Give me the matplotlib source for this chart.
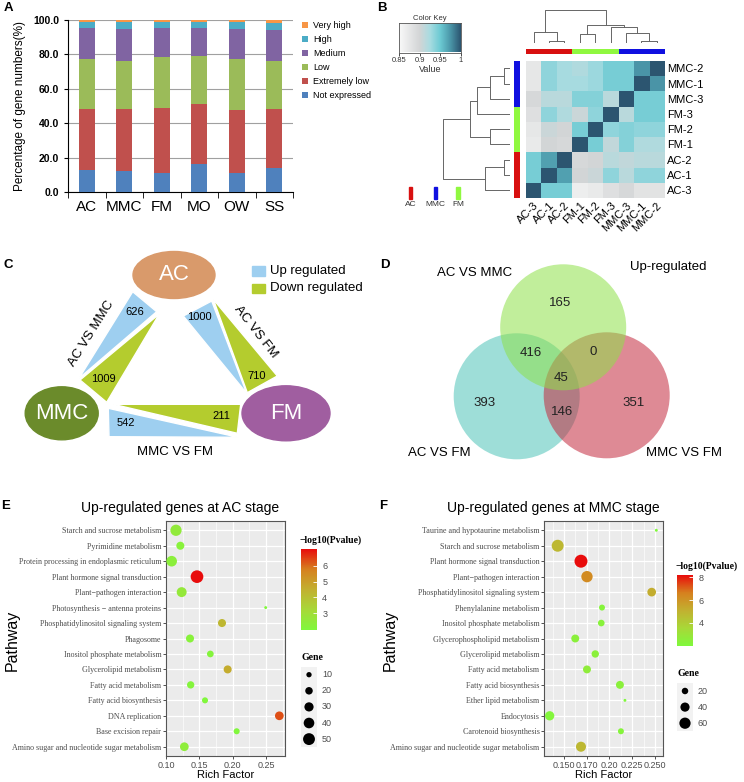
import numpy as np
import matplotlib
matplotlib.use('Agg')
import matplotlib.pyplot as plt
from matplotlib.colors import LinearSegmentedColormap, to_rgb
from matplotlib.patches import Ellipse, Polygon, Circle, Rectangle

plt.rcParams['font.family'] = ['Liberation Sans', 'DejaVu Sans']
SERIF = 'Liberation Serif'

# ---------------- A: share of genes per expression level ----------------
stages = ['AC', 'MMC', 'FM', 'MO', 'OW', 'SS']
level_names = ['Not expressed', 'Extremely low', 'Low', 'Medium', 'High', 'Very high']
not_expressed = [12.6, 12.4, 11.3, 16.5, 11.3, 14.0]
extremely_low = [35.7, 35.9, 37.6, 34.4, 36.1, 34.0]
low = [28.8, 28.0, 29.5, 28.1, 29.9, 28.3]
medium = [18.0, 18.5, 17.1, 16.1, 17.5, 18.1]
high = [3.5, 3.8, 3.3, 3.5, 3.8, 4.0]
very_high = [1.4, 1.4, 1.2, 1.4, 1.4, 1.6]
level_colors = ['#4F81BD', '#C0504D', '#9BBB59', '#8064A2', '#4BACC6', '#F79646']

# ---------------- B: sample correlation heatmap ----------------
row_labels = ['MMC-2', 'MMC-1', 'MMC-3', 'FM-3', 'FM-2', 'FM-1', 'AC-2', 'AC-1', 'AC-3']
col_labels = ['AC-3', 'AC-1', 'AC-2', 'FM-1', 'FM-2', 'FM-3', 'MMC-3', 'MMC-1', 'MMC-2']
corr = np.array([
    [0.875, 0.935, 0.925, 0.920, 0.930, 0.945, 0.945, 0.975, 1.000],
    [0.875, 0.935, 0.925, 0.925, 0.930, 0.945, 0.945, 1.000, 0.975],
    [0.895, 0.915, 0.915, 0.940, 0.940, 0.915, 1.000, 0.945, 0.945],
    [0.885, 0.935, 0.920, 0.905, 0.935, 1.000, 0.915, 0.945, 0.945],
    [0.875, 0.905, 0.900, 0.945, 1.000, 0.935, 0.940, 0.935, 0.935],
    [0.870, 0.900, 0.895, 1.000, 0.945, 0.910, 0.940, 0.920, 0.920],
    [0.945, 0.970, 1.000, 0.895, 0.900, 0.915, 0.910, 0.915, 0.915],
    [0.945, 1.000, 0.970, 0.900, 0.905, 0.935, 0.915, 0.935, 0.935],
    [1.000, 0.945, 0.945, 0.865, 0.870, 0.885, 0.895, 0.880, 0.880],
])
# merges (child a, child b, height); new nodes numbered from 9 upwards
col_tree = [(1, 2, 8), (0, 9, 35), (3, 4, 27), (7, 8, 8), (6, 12, 30),
            (5, 13, 48), (11, 14, 55), (10, 15, 100)]
row_tree = [(0, 1, 20), (2, 9, 60), (3, 10, 100), (4, 5, 60), (11, 12, 120),
            (6, 7, 20), (14, 8, 75), (13, 15, 203)]
group_colors = {'AC': '#d81010', 'MMC': '#1010e0', 'FM': '#90f840'}

# ---------------- C: DEG counts between stages ----------------
c_pairs = ['AC VS MMC', 'AC VS FM', 'MMC VS FM']
c_up = [626, 1000, 542]
c_down = [1009, 710, 211]

# ---------------- D: Venn of up-regulated genes ----------------
venn_sets = ['AC VS MMC', 'AC VS FM', 'MMC VS FM']
venn_regions = ['100', '010', '001', '110', '101', '011', '111']
venn_counts = [165, 393, 351, 416, 0, 146, 45]

# ---------------- E: KEGG enrichment, AC stage ----------------
e_paths = ['Starch and sucrose metabolism', 'Pyrimidine metabolism',
           'Protein processing in endoplasmic reticulum', 'Plant hormone signal transduction',
           'Plant\u2212pathogen interaction', 'Photosynthesis \u2212 antenna proteins',
           'Phosphatidylinositol signaling system', 'Phagosome', 'Inositol phosphate metabolism',
           'Glycerolipid metabolism', 'Fatty acid metabolism', 'Fatty acid biosynthesis',
           'DNA replication', 'Base excision repair', 'Amino sugar and nucleotide sugar metabolism']
e_rich = [0.115, 0.1215, 0.1085, 0.1465, 0.1235, 0.2495, 0.184, 0.136, 0.1665,
          0.1925, 0.137, 0.1585, 0.270, 0.206, 0.1275]
e_logp = [2.5, 2.2, 2.3, 7.05, 2.6, 1.95, 4.3, 2.2, 2.1, 4.6, 2.1, 2.0, 6.3, 2.0, 2.4]
e_genes = [45, 23, 40, 57, 35, 3, 23, 23, 16, 23, 19, 13, 27, 13, 27]

# ---------------- F: KEGG enrichment, MMC stage ----------------
f_paths = ['Taurine and hypotaurine metabolism', 'Starch and sucrose metabolism',
           'Plant hormone signal transduction', 'Plant\u2212pathogen interaction',
           'Phosphatidylinositol signaling system', 'Phenylalanine metabolism',
           'Inositol phosphate metabolism', 'Glycerophospholipid metabolism',
           'Glycerolipid metabolism', 'Fatty acid metabolism', 'Fatty acid biosynthesis',
           'Ether lipid metabolism', 'Endocytosis', 'Carotenoid biosynthesis',
           'Amino sugar and nucleotide sugar metabolism']
f_rich = [0.2515, 0.1431, 0.1687, 0.1753, 0.2464, 0.1918, 0.191, 0.1624, 0.1844,
          0.1753, 0.2115, 0.217, 0.1343, 0.2126, 0.1687]
f_logp = [2.0, 4.8, 8.2, 6.3, 5.2, 2.2, 2.3, 2.4, 2.4, 2.6, 2.4, 2.0, 2.1, 2.2, 4.8]
f_genes = [4, 68, 80, 61, 36, 17, 21, 30, 26, 30, 30, 4, 41, 17, 48]
f_ticks = [0.15, 0.175, 0.20, 0.225, 0.25]
f_ticklabels = ['0.150', '0.170', '0.20', '0.225', '0.250']

W, H = 744, 782
fig = plt.figure(figsize=(W / 100, H / 100), dpi=100)


def box(x0, y0, x1, y1):
    return [x0 / W, 1 - y1 / H, (x1 - x0) / W, (y1 - y0) / H]


cv = fig.add_axes([0, 0, 1, 1])
cv.set_xlim(0, W)
cv.set_ylim(H, 0)
cv.axis('off')
cv.set_zorder(5)

for lab, (x, y) in zip('ABCDEF', [(8, 8), (382, 8), (8, 265), (385, 265), (6, 506), (383, 506)]):
    cv.text(x, y, lab, fontsize=9.5, fontweight='bold', ha='center', va='center')

# ======== A ========
axA = fig.add_axes(box(68, 20, 293, 192))
xs = np.arange(len(stages))
bottom = np.zeros(len(stages))
handles = []
for vals, col, name in zip([not_expressed, extremely_low, low, medium, high, very_high],
                           level_colors, level_names):
    b = axA.bar(xs, vals, 0.42, bottom=bottom, color=col, label=name, zorder=3)
    handles.append(b)
    bottom += np.array(vals)
axA.set_xlim(-0.5, len(stages) - 0.5)
axA.set_ylim(0, 100)
axA.set_yticks(range(0, 101, 20))
axA.set_yticklabels([f'{v:.1f}' for v in range(0, 101, 20)], fontweight='bold', fontsize=7.5)
axA.set_xticks(xs)
axA.set_xticklabels(stages, fontsize=11)
axA.set_xticks(np.arange(-0.5, len(stages), 1), minor=True)
axA.tick_params(axis='x', which='major', length=0, pad=6)
axA.tick_params(axis='x', which='minor', length=4)
axA.tick_params(axis='y', length=3)
axA.yaxis.grid(True, color='#a0a0a0', lw=0.8, zorder=0)
axA.set_axisbelow(True)
for s in ['top', 'right']:
    axA.spines[s].set_visible(False)
axA.set_ylabel('Percentage of gene numbers(%)', fontsize=8.5, labelpad=5)
axA.legend(handles[::-1], level_names[::-1], loc='upper left', bbox_to_anchor=(302 / W, 1 - 21 / H),
           bbox_transform=fig.transFigure, frameon=False, fontsize=6.5, handlelength=0.7,
           handleheight=0.7, labelspacing=0.55, handletextpad=0.5, borderaxespad=0, borderpad=0)

# ======== B ========
key_cmap = LinearSegmentedColormap.from_list('key', [
    (0, '#f9f9f9'), (0.333, '#d3d5d6'), (0.5, '#a8dce1'), (0.667, '#6ccad3'),
    (0.83, '#4b97a9'), (1, '#2c5570')])
axH = fig.add_axes(box(526, 60.7, 664.3, 197.7))
axH.imshow(corr, cmap=key_cmap, vmin=0.85, vmax=1, aspect='auto')
axH.set_xticks(range(len(col_labels)))
axH.set_xticklabels(col_labels, rotation=45, ha='right', va='top', rotation_mode='anchor', fontsize=8)
axH.yaxis.tick_right()
axH.set_yticks(range(len(row_labels)))
axH.set_yticklabels(row_labels, fontsize=8)
axH.tick_params(length=0, pad=2)
for s in axH.spines.values():
    s.set_visible(False)


def dendro(ax, merges, n, orient):
    pos = {i: (float(i), 0.0) for i in range(n)}
    for k, (a, b, h) in enumerate(merges):
        xa, ha = pos[a]
        xb, hb = pos[b]
        px = [xa, xa, xb, xb]
        py = [ha, h, h, hb]
        if orient == 'top':
            ax.plot(px, py, color='#666666', lw=0.7)
        else:
            ax.plot(py, px, color='#666666', lw=0.7)
        pos[n + k] = ((xa + xb) / 2, h)


axCD = fig.add_axes(box(526, 10, 664.3, 43.3))
dendro(axCD, col_tree, len(col_labels), 'top')
axCD.set_xlim(-0.5, len(col_labels) - 0.5)
axCD.set_ylim(0, max(m[2] for m in col_tree))
axCD.axis('off')

axRD = fig.add_axes(box(442.7, 60.7, 510.3, 197.7))
dendro(axRD, row_tree, len(row_labels), 'left')
axRD.set_xlim(max(m[2] for m in row_tree), 0)
axRD.set_ylim(len(row_labels) - 0.5, -0.5)
axRD.axis('off')

axCB = fig.add_axes(box(526, 48.5, 664.3, 54))
axCB.imshow([[to_rgb(group_colors[l.split('-')[0]]) for l in col_labels]], aspect='auto')
axCB.axis('off')
axRB = fig.add_axes(box(514, 60.7, 520, 197.7))
axRB.imshow([[to_rgb(group_colors[l.split('-')[0]])] for l in row_labels], aspect='auto')
axRB.axis('off')

axKey = fig.add_axes(box(399, 23, 461, 52.5))
axKey.imshow([np.linspace(0.85, 1, 200)], cmap=key_cmap, vmin=0.85, vmax=1, aspect='auto',
             extent=[0.85, 1, 0, 1])
axKey.set_yticks([])
axKey.set_xticks([0.85, 0.9, 0.95, 1])
axKey.set_xticklabels(['0.85', '0.9', '0.95', '1'], fontsize=5.5, color='#333333')
axKey.tick_params(length=2, pad=1, width=0.5)
axKey.set_title('Color Key', fontsize=5.5, pad=2, color='#333333')
axKey.set_xlabel('Value', fontsize=6.5, labelpad=1, color='#333333')
for s in axKey.spines.values():
    s.set_linewidth(0.6)
    s.set_color('#555555')

for grp, x in zip(['AC', 'MMC', 'FM'], [410.5, 435.5, 458]):
    cv.add_patch(Rectangle((x - 1.8, 186.5), 3.6, 12, color=group_colors[grp]))
    cv.text(x, 205, grp, fontsize=6, ha='center', va='center', color='#333333')

# ======== C ========
up_col, down_col = '#9ecff0', '#b4cc2e'
cv.add_patch(Ellipse((174, 275), 82, 47, color='#d99a6b'))
cv.add_patch(Ellipse((61.7, 413.3), 73, 53, color='#6b8b2b'))
cv.add_patch(Ellipse((286, 413.3), 88, 55, color='#a05ea0'))
for name, (x, y) in zip(['AC', 'MMC', 'FM'], [(174, 275), (61.7, 413.3), (286, 413.3)]):
    cv.text(x, y, name, color='white', fontsize=16, ha='center', va='center')
tri_up = [[(132.7, 291.7), (156.7, 311.7), (79, 378.3)],
          [(183.3, 316), (211.7, 301), (246.7, 393.3)],
          [(108.3, 408.3), (109, 436.7), (238.3, 437.3)]]
tri_down = [[(159.3, 314), (80, 380), (106.7, 402.3)],
            [(213.3, 299.3), (277.3, 376), (247.3, 392.7)],
            [(113.3, 404.3), (240.7, 404.3), (237.3, 433.3)]]
up_txt = [(135, 311.7), (199, 317.3), (126, 423.3)]
down_txt = [(103.3, 379.3), (256.7, 376), (221.7, 415.7)]
for tu, td, nu, nd, pu, pd in zip(tri_up, tri_down, c_up, c_down, up_txt, down_txt):
    cv.add_patch(Polygon(tu, closed=True, fc=up_col, ec='white', lw=1))
    cv.add_patch(Polygon(td, closed=True, fc=down_col, ec='white', lw=1))
    cv.text(*pu, str(nu), fontsize=8, ha='center', va='center')
    cv.text(*pd, str(nd), fontsize=8, ha='center', va='center')
for name, (x, y), rot in zip(c_pairs, [(91.7, 333.3), (255.7, 331.7), (175, 451.7)], [58, -52, 0]):
    cv.text(x, y, name, fontsize=9.5, rotation=rot, ha='center', va='center')
cv.add_patch(Rectangle((251.7, 266), 13.3, 9.5, color=up_col))
cv.add_patch(Rectangle((251.7, 283.5), 13.3, 9.5, color=down_col))
cv.text(270, 270.7, 'Up regulated', fontsize=9.5, va='center')
cv.text(270, 288.5, 'Down regulated', fontsize=9.5, va='center')

# ======== D ========
venn_centers = [(563.2, 327.3), (516.7, 396.3), (606.7, 395.3)]
venn_colors = ['#8ee04a', '#4fc4b8', '#c42a3e']
for i in [1, 2, 0]:
    cv.add_patch(Circle(venn_centers[i], 63, fc=venn_colors[i], alpha=0.55, lw=0))
region_pos = {'100': (560.3, 302.7), '010': (484.3, 403.3), '001': (633.7, 403.3),
              '110': (531, 353.3), '101': (593, 352.3), '011': (562, 411.7), '111': (561.3, 378.3)}
for r, n in zip(venn_regions, venn_counts):
    cv.text(*region_pos[r], str(n), fontsize=9.5, ha='center', va='center', color='#222222')
for name, (x, y) in zip(venn_sets, [(474.3, 273.3), (439.7, 453.3), (684.3, 453.3)]):
    cv.text(x, y, name, fontsize=9.5, ha='center', va='center')
cv.text(668, 266.7, 'Up-regulated', fontsize=9.5, ha='center', va='center')

# ======== E / F ========
p_cmap = LinearSegmentedColormap.from_list('p', ['#80f83c', '#a8d838', '#c2b030', '#d6801e', '#e80c0c'])


def bubble(ax_box, paths, rich, logp, genes, k, xlim, ticks, ticklabels, minor, title, tcx,
           cb_box, cb_ticks, gene_keys, key_y0):
    ax = fig.add_axes(box(*ax_box))
    n = len(paths)
    y = np.arange(n)[::-1]
    sc = ax.scatter(rich, y, s=k * np.array(genes), c=logp, cmap=p_cmap, edgecolors='none', zorder=3)
    ax.set_facecolor('#ebebeb')
    ax.set_xlim(*xlim)
    ax.set_ylim(-0.6, n - 0.4)
    ax.set_yticks(y)
    ax.set_yticklabels(paths, fontfamily=SERIF, fontsize=5.8, color='#4d4d4d')
    ax.set_xticks(ticks)
    ax.set_xticklabels(ticklabels, fontsize=6.5, color='#4d4d4d')
    ax.set_xticks(minor, minor=True)
    ax.tick_params(which='major', length=2, width=0.6, color='#333333', pad=1.5)
    ax.tick_params(which='minor', length=0)
    ax.grid(True, which='major', color='white', lw=0.9, zorder=0)
    ax.grid(True, which='minor', axis='x', color='white', lw=0.45, zorder=0)
    ax.set_axisbelow(True)
    for s in ax.spines.values():
        s.set_color('#555555')
        s.set_linewidth(0.8)
    cv.text((ax_box[0] + ax_box[2]) / 2, ax_box[3] + 19, 'Rich Factor', fontsize=8,
            ha='center', va='center')
    cv.text(tcx, 508, title, fontsize=10, ha='center', va='center')
    cv.text(ax_box[0] - 154, 640, 'Pathway', fontsize=11.5, rotation=90, ha='center', va='center')

    cax = fig.add_axes(box(*cb_box))
    cb = fig.colorbar(sc, cax=cax)
    cb.set_ticks(cb_ticks)
    cb.outline.set_visible(False)
    cax.tick_params(length=3, width=0.6, color='white', direction='in', labelsize=6.5,
                    labelcolor='#4d4d4d', pad=4)
    cv.text(cb_box[0] - 1, cb_box[1] - 9, '\u2212log10(Pvalue)', fontfamily=SERIF, fontweight='bold',
            fontsize=7, va='center')
    cv.text(cb_box[0], key_y0 - 17, 'Gene', fontfamily=SERIF, fontweight='bold', fontsize=7,
            va='center')
    for j, g in enumerate(gene_keys):
        yk = key_y0 + 16.1 * j
        cv.add_patch(Rectangle((cb_box[0], yk - 8), 16, 16, fc='#f2f2f2', ec='none'))
        cv.scatter([cb_box[0] + 8], [yk], s=k * g, color='black', edgecolors='none')
        cv.text(cb_box[0] + 21, yk, str(g), fontsize=6.5, color='#4d4d4d', va='center')
    return ax


bubble((166, 521, 285, 756), e_paths, e_rich, e_logp, e_genes, 1.46, (0.1004, 0.2785),
       [0.10, 0.15, 0.20, 0.25], ['0.10', '0.15', '0.20', '0.25'], [0.125, 0.175, 0.225, 0.275],
       'Up-regulated genes at AC stage', 180, (301, 549, 316.7, 630), [3, 4, 5, 6],
       [10, 20, 30, 40, 50], 674.7)
bubble((544.3, 521, 662.7, 756), f_paths, f_rich, f_logp, f_genes, 1.09, (0.1284, 0.2585),
       f_ticks, f_ticklabels, [0.1375, 0.1625, 0.1875, 0.2125, 0.2375],
       'Up-regulated genes at MMC stage', 553, (677, 575, 693, 645.7), [4, 6, 8],
       [20, 40, 60], 691)

fig.savefig('out.png', dpi=100)
